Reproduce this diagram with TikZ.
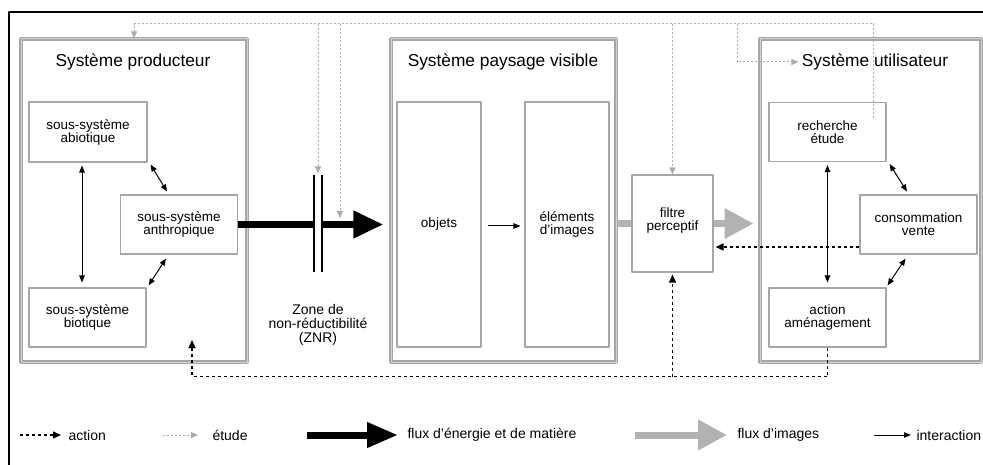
\documentclass[tikz,border=0pt]{standalone}
\usepackage{fontspec}
\setmainfont{Liberation Sans}
\usetikzlibrary{arrows.meta,calc}
\begin{document}
\begin{tikzpicture}[x=1pt,y=-1pt,line join=round,>={Triangle[length=7pt,width=5.5pt]},
	big/.style={draw=gray!70,double=gray!35,double distance=1pt,line width=1.1pt,minimum height=323pt},
	box/.style={draw=gray!70,line width=1.1pt,align=center,inner sep=0pt,minimum width=117pt,minimum height=59pt,font=\fontsize{13.5}{13}\selectfont},
	titre/.style={font=\fontsize{17.3}{18}\selectfont},
	leg/.style={anchor=west,font=\fontsize{14}{14}\selectfont},
	inter/.style={line width=1pt},
	flux/.style={line width=7pt,-{Triangle[length=30pt,width=26pt]}},
	gflux/.style={line width=7pt,draw=gray!60,-{Triangle[length=29pt,width=29pt]}},
	action/.style={line width=1.4pt,dash pattern=on 3pt off 3pt,-{Triangle[length=8pt,width=7pt]}},
	etude/.style={line width=1pt,draw=gray!65,dash pattern=on 2pt off 2pt,-{Triangle[length=7pt,width=6pt]}}]
	\useasboundingbox (0,0) rectangle (983,465);
	\draw[line width=1.3pt] (9,465) |- (983,12);
	% les trois systemes
	\node[big,minimum width=226pt] (prod) at (134,200.5) {};
	\node[big,minimum width=225pt] (pays) at (503.5,200.5) {};
	\node[big,minimum width=221pt] (util) at (870.5,200.5) {};
	\node[titre] (tprod) at (133,62) {Système producteur};
	\node[titre] (tpays) at (503,62) {Système paysage visible};
	\node[titre] (tutil) at (875,62) {Système utilisateur};
	\node[box,minimum width=118pt,minimum height=60pt] (abio) at (88,132) {sous-système\\abiotique};
	\node[box] (anth) at (179,224.5) {sous-système\\anthropique};
	\node[box] (bio) at (87.5,317.5) {sous-système\\biotique};
	\node[box,minimum width=84pt,minimum height=245pt] (obj) at (439,224.5) {objets};
	\node[box,minimum width=84pt,minimum height=245pt] (elem) at (567,224.5) {éléments\\d’images};
	\node[box,minimum width=81pt,minimum height=97pt,text depth=9pt] (filt) at (672.5,223.5) {filtre\\perceptif};
	\node[box] (rech) at (827.5,132) {recherche\\étude};
	\node[box] (cons) at (918.5,224.5) {consommation\\vente};
	\node[box] (act) at (827.5,317.5) {action\\aménagement};
	% interactions
	\draw[inter,<->] ($(abio.south)+(-6,3)$) -- ($(bio.north)+(-5.5,-5)$);
	\draw[inter,<->] ($(abio.south east)+(3,2)$) -- ($(anth.north)+(-12,-3)$);
	\draw[inter,<->] ($(anth.south)+(-13,4)$) -- ($(bio.north east)+(2,-2)$);
	\draw[inter,<->] ($(rech.south)+(0,3)$) -- ($(act.north)+(0,-5)$);
	\draw[inter,<->] ($(rech.south east)+(3,2)$) -- ($(cons.north)+(-11.5,-3)$);
	\draw[inter,<->] ($(cons.south)+(-13,4)$) -- ($(act.north east)+(1,-2)$);
	\draw[inter,->] ($(obj.east)+(6,1.5)$) -- ($(elem.west)+(-4,1.5)$);
	% flux
	\coordinate (pointe) at ($(pays.west)+(-7,24)$);
	\draw[flux] (anth.east) -- (pointe);
	\coordinate (znr) at (318,223.5);
	\fill[white] ($(znr)+(-3,-6)$) rectangle ($(znr)+(3,6)$);
	\foreach \d in {-4,4}
		\draw[line width=1.5pt] ($(znr)+(\d,-48)$) -- ($(znr)+(\d,49)$);
	\node[align=center,font=\fontsize{14}{14}\selectfont] (zlab) at (318,325) {Zone de\\non-réductibilité\\(ZNR)};
	\draw[gflux,-] (filt.west -| pays.east) -- (filt.west);
	\draw[gflux] (filt.east) -- ($(filt.east)+(40,0)$);
	% action
	\coordinate (ret) at ($(cons.west)+(0,22.5)$);
	\draw[action,shorten >=2pt] (ret) -- (ret -| filt.east);
	\coordinate (bas) at ($(act.south)+(0,29)$);
	\coordinate (pa) at (192,340);
	\draw[action] (act.south) |- (pa |- bas) -- (pa);
	\draw[action,shorten >=2pt] (filt.south |- bas) -- (filt.south);
	% etude
	\coordinate (haut) at (0,24);
	\coordinate (ee) at ($(rech.north east)+(-13,16)$);
	\draw[etude] (ee) |- (prod.north |- haut) -- (prod.north);
	\draw[etude] (znr |- haut) -- ($(znr)+(0,-50)$);
	\coordinate (fl) at (340,218);
	\draw[etude] (fl |- haut) -- (fl);
	\draw[etude] (filt.north |- haut) -- (filt.north);
	\coordinate (coude) at (737,24);
	\draw[etude] (coude) |- (tutil.west);
	% legende
	\node[leg] (lac) at (65,435) {action};
	\draw[action] ($(lac.west)+(-45,0)$) -- ($(lac.west)+(-4,0)$);
	\node[leg] (let) at (209,435) {étude};
	\draw[etude] ($(let.west)+(-46,0)$) -- ($(let.west)+(-11,0)$);
	\node[leg] (lfl) at (404,435) {flux d’énergie et de matière};
	\draw[flux,-{Triangle[length=31pt,width=24pt]}] ($(lfl.west)+(-97,0)$) -- ($(lfl.west)+(-6,0)$);
	\node[leg] (lim) at (734,435) {flux d’images};
	\draw[gflux] ($(lim.west)+(-99,0)$) -- ($(lim.west)+(-7,0)$);
	\node[leg] (lin) at (913,435) {interaction};
	\draw[inter,->] ($(lin.west)+(-39,0)$) -- ($(lin.west)+(-2,0)$);
\end{tikzpicture}
\end{document}
